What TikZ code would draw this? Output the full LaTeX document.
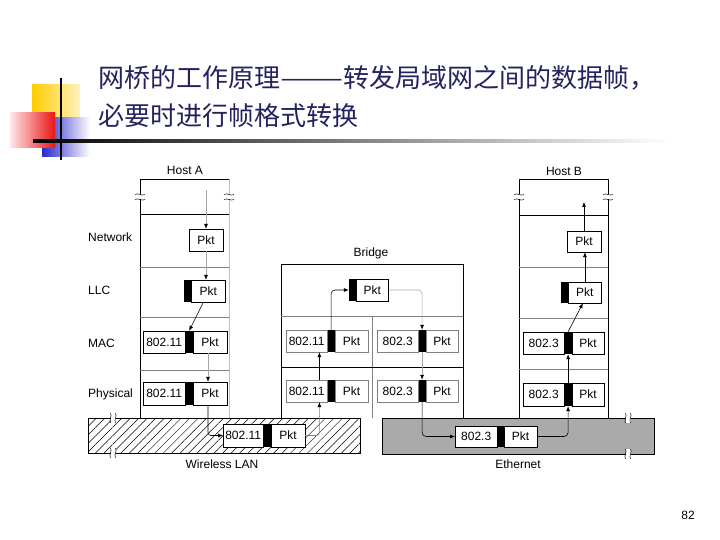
\documentclass[tikz,border=0pt]{standalone}
\usepackage{fontspec}
\setsansfont{Liberation Sans}
\newfontfamily\cjk{Noto Sans CJK SC}
\usepackage{tikz}
\usetikzlibrary{
	arrows.meta, 
	patterns.meta, 
	positioning
}
\definecolor{TitleBlue}{RGB}{35, 35, 95}
\definecolor{DecoYellow}{RGB}{255, 204, 0}
\definecolor{DecoBlue}{RGB}{40, 40, 200}
\definecolor{DecoRed}{RGB}{235, 20, 20}
\definecolor{LanGray}{RGB}{170, 170, 170}

\tikzset{
	lbl/.style={font=\sffamily\fontsize{12}{13}\selectfont, inner sep=0pt},
	hdr/.style={draw, fill=white, minimum height=22pt, inner sep=0pt, font=\sffamily\fontsize{12}{13}\selectfont},
	bar/.style={fill=black, minimum width=7pt, minimum height=22pt, inner sep=0pt},
	pk/.style={hdr},
	arr/.style={-{Latex[black, length=5pt, width=4pt]}, line width=0.6pt},
	garr/.style={arr, draw=gray!70},
	titletext/.style={anchor=west, text=TitleBlue, font=\cjk\fontsize{26}{28}\selectfont, inner sep=0pt},
	vbrk/.pic={
		\fill[white] (-5,-2.5) rectangle (5,2.5);
		\draw[line width=0.5pt] (-5,-2.5) .. controls (-2,-4.5) and (2,-0.5) .. (5,-2.5);
		\draw[line width=0.5pt] (-5,2.5) .. controls (-2,0.5) and (2,4.5) .. (5,2.5);
	}
}

\begin{document}
\begin{tikzpicture}[x=1pt, y=-1pt]
		\useasboundingbox (0,0) rectangle (720,540);
		% slide decoration
		\shade[left color=DecoYellow, right color=DecoYellow!25] (32,85) rectangle (80,122);
		\shade[left color=DecoBlue, middle color=DecoBlue!85, right color=white] (42,118) rectangle (90,157);
		\shade[left color=DecoRed!10, right color=DecoRed] (10,113) rectangle (55,148);
		\draw[line width=2.5pt] (61,78) -- (61,160);
		\shade[left color=black, middle color=black!25, right color=white] (33,139.5) rectangle (670,142.5);
		% title
		\node[titletext] (title1) at (98,78) {网桥的工作原理\scalebox{1.45}[1]{——}转发局域网之间的数据帧，};
		\node[titletext] (title2) at (98,116) {必要时进行帧格式转换};
		\node[font=\sffamily\fontsize{12}{14}\selectfont] (pageno) at (688,515) {82};

		% LANs
		\draw[line width=0.6pt, pattern={Lines[angle=45, distance=6pt, line width=0.5pt]}] (88,418) rectangle (360,453);
		\draw[line width=0.6pt, fill=LanGray] (382,418) rectangle (654,454);
		\pic at (113,418) [rotate=90] {vbrk};
		\pic at (113,453) [rotate=90] {vbrk};
		\pic at (628,418) [rotate=90] {vbrk};
		\pic at (628,454) [rotate=90] {vbrk};
		\node[lbl] (wlan) at (222,464) {Wireless LAN};
		\node[lbl] (ether) at (518,464) {Ethernet};

		% Host A
		\draw[line width=0.6pt] (140,418) -- (140,179) -- (229,179);
		\draw[line width=0.8pt, gray!50] (229,179) -- (229,418);
		\draw[line width=0.6pt] (140,214) -- (229,214);
		\draw[line width=0.5pt, gray] (140,267) -- (229,267);
		\draw[line width=0.5pt, gray] (140,317) -- (229,317);
		\draw[line width=0.5pt, gray] (140,370) -- (229,370);
		\pic at (140,197) {vbrk};
		\pic at (229,197) {vbrk};
		\node[lbl] (hosta) at (185,170) {Host A};
		\node[lbl, anchor=west] (lnet) at (88,237) {Network};
		\node[lbl, anchor=west] (lllc) at (88,290) {LLC};
		\node[lbl, anchor=west] (lmac) at (88,343) {MAC};
		\node[lbl, anchor=west] (lphy) at (88,394) {Physical};

		\node[pk, minimum width=34pt] (anet) at (206,240) {Pkt};
		\node[bar] (allcb) at (187.5,291) {};
		\node[pk, minimum width=34pt, right=0pt of allcb] (allcp) {Pkt};
		\node[hdr, minimum width=42pt, anchor=west] (amach) at (143,342) {802.11};
		\node[bar, right=0pt of amach] (amacb) {};
		\node[pk, minimum width=34pt, right=0pt of amacb] (amacp) {Pkt};
		\node[hdr, minimum width=42pt, minimum height=23pt, anchor=west] (aphyh) at (143,393.5) {802.11};
		\node[bar, minimum height=23pt, right=0pt of aphyh] (aphyb) {};
		\node[pk, minimum width=34pt, minimum height=23pt, right=0pt of aphyb] (aphyp) {Pkt};

		% frame on the wireless LAN
		\node[hdr, minimum width=40pt, anchor=west, minimum height=23pt] (wh) at (223,435.5) {802.11};
		\node[bar, minimum height=23pt, right=0pt of wh] (wb) {};
		\node[pk, minimum width=34pt, minimum height=23pt, right=0pt of wb] (wp) {Pkt};

		% Bridge
		\draw[line width=0.6pt] (281,418) -- (281,264) -- (463,264) -- (463,418);
		\draw[line width=0.5pt, gray] (281,316) -- (463,316);
		\draw[line width=0.5pt, gray] (372,316) -- (372,418);
		\draw[line width=1pt] (281,367) -- (463,367);
		\node[lbl] (bridge) at (371,253) {Bridge};
		\node[bar] (btopb) at (352.5,290) {};
		\node[pk, minimum width=32pt, right=0pt of btopb] (btopp) {Pkt};
		\node[hdr, draw=gray, minimum width=41pt, anchor=west] (bm1h) at (286,341) {802.11};
		\node[bar, right=0pt of bm1h] (bm1b) {};
		\node[pk, draw=gray, minimum width=33pt, right=0pt of bm1b] (bm1p) {Pkt};
		\node[hdr, draw=gray, minimum width=41pt, anchor=west] (bm3h) at (377,341) {802.3};
		\node[bar, right=0pt of bm3h] (bm3b) {};
		\node[pk, draw=gray, minimum width=32pt, right=0pt of bm3b] (bm3p) {Pkt};
		\node[hdr, draw=gray, minimum width=41pt, anchor=west] (bp1h) at (286,391) {802.11};
		\node[bar, right=0pt of bp1h] (bp1b) {};
		\node[pk, draw=gray, minimum width=33pt, right=0pt of bp1b] (bp1p) {Pkt};
		\node[hdr, draw=gray, minimum width=41pt, anchor=west] (bp3h) at (377,391) {802.3};
		\node[bar, right=0pt of bp3h] (bp3b) {};
		\node[pk, draw=gray, minimum width=32pt, right=0pt of bp3b] (bp3p) {Pkt};

		% frame on the Ethernet
		\node[hdr, minimum width=42pt, minimum height=21pt, anchor=west] (eh) at (455,436.5) {802.3};
		\node[bar, minimum width=6pt, minimum height=21pt, right=0pt of eh] (eb) {};
		\node[pk, minimum width=33pt, minimum height=21pt, right=0pt of eb] (ep) {Pkt};

		% Host B
		\draw[line width=0.6pt] (519,418) -- (519,179) -- (608,179) -- (608,418);
		\draw[line width=0.6pt] (519,215) -- (608,215);
		\draw[line width=0.5pt, gray] (519,267) -- (608,267);
		\draw[line width=0.5pt, gray] (519,318) -- (608,318);
		\draw[line width=0.5pt, gray] (519,369) -- (608,369);
		\pic at (519,197) {vbrk};
		\pic at (608,197) {vbrk};
		\node[lbl] (hostb) at (564,171) {Host B};
		\node[pk, minimum width=34pt, minimum height=21pt] (bnet) at (584,241.5) {Pkt};
		\node[bar, minimum height=21pt] (bllcb) at (564.5,292.5) {};
		\node[pk, minimum width=33pt, minimum height=21pt, right=0pt of bllcb] (bllcp) {Pkt};
		\node[hdr, minimum width=41pt, anchor=west] (bmach) at (523,343) {802.3};
		\node[bar, right=0pt of bmach] (bmacb) {};
		\node[pk, minimum width=32pt, right=0pt of bmacb] (bmacp) {Pkt};
		\node[hdr, minimum width=41pt, minimum height=23pt, anchor=west] (bphyh) at (523,394.5) {802.3};
		\node[bar, minimum height=23pt, right=0pt of bphyh] (bphyb) {};
		\node[pk, minimum width=32pt, minimum height=23pt, right=0pt of bphyb] (bphyp) {Pkt};

		% path of the frame
		\coordinate (astart) at (206,190);
		\coordinate (bend) at (584,202);
		\draw[garr] (astart) -- (anet.north);
		\draw[garr] (anet.south) -- (anet.south |- allcp.north);
		\draw[arr] ([xshift=-5pt]allcp.south) -- (amacb.north);
		\draw[garr] ([xshift=-2pt]amacp.south) -- ([xshift=-2pt]aphyp.north);
		\draw[arr, rounded corners=3pt] ([xshift=-2pt]aphyp.south) |- (wh.west);
		\draw[arr, draw=gray, rounded corners=3pt] (wp.east) -| ([xshift=-8pt]bp1h.south east);
		\draw[arr] ([xshift=-8pt]bp1h.north east) -- ([xshift=-8pt]bm1h.south east);
		\draw[arr, rounded corners=4pt] (bm1b.north) |- (btopb.west);
		\draw[garr, rounded corners=4pt] (btopp.east) -| (bm3b.north);
		\draw[garr] (bm3b.south) -- (bp3b.north);
		\draw[arr, rounded corners=4pt] (bp3b.south) |- (eb.west -| eh.west);
		\draw[arr, rounded corners=4pt] (ep.east) -| (bphyb.south);
		\draw[arr] (bphyb.north) -- (bmacb.south);
		\draw[arr] (bmacb.north) -- ([xshift=-2pt]bllcp.south);
		\draw[arr] (bllcp.north) -- (bllcp.north |- bnet.south);
		\draw[arr] (bnet.north) -- (bend);
	\end{tikzpicture}
\end{document}
